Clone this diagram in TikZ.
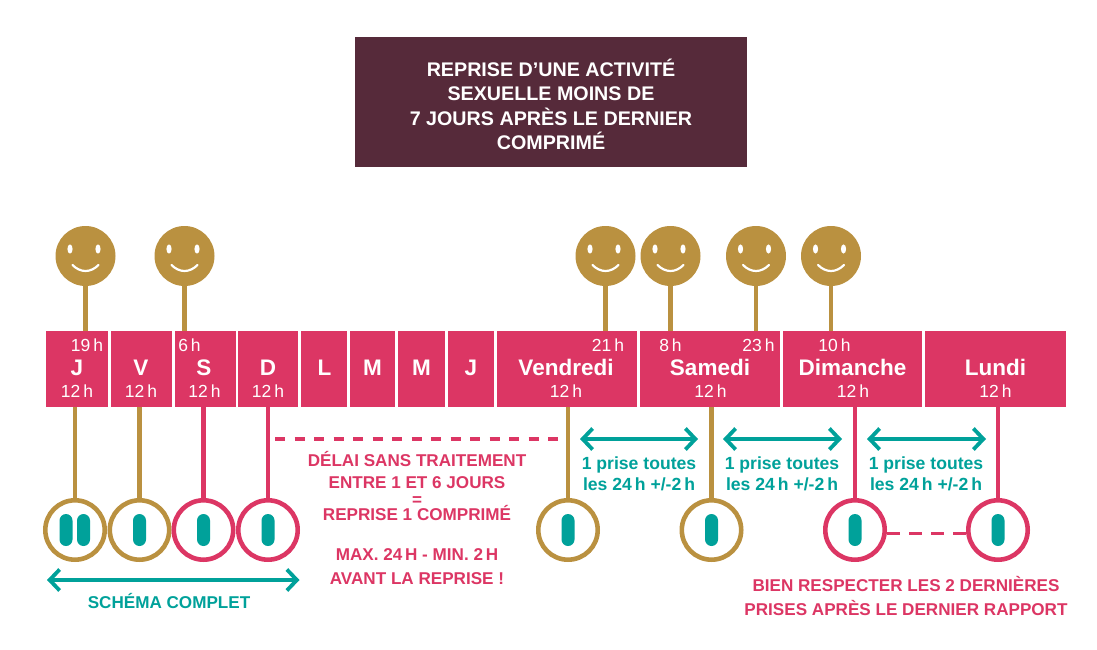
\documentclass[tikz,border=0pt]{standalone}
\usepackage{fontspec}
\setmainfont{Liberation Sans}
\usetikzlibrary{arrows.meta}
\definecolor{rose}{HTML}{DC3664}
\definecolor{gold}{HTML}{BA9140}
\definecolor{teal2}{HTML}{00A19A}
\definecolor{plum}{HTML}{562A3A}
\tikzset{
 x=1pt,y=-1pt,
 daybox/.style={fill=rose,inner sep=0,outer sep=0,anchor=north west,minimum height=76pt},
 dt/.style={text=white,font=\bfseries\fontsize{22.5}{22.5}\selectfont,inner sep=0,anchor=base},
 hr/.style={text=white,font=\fontsize{17.5}{17.5}\selectfont,inner sep=0,anchor=base},
 pilring/.style={circle,draw=#1,line width=4.6pt,fill=white,minimum size=59.4pt,inner sep=0,outer sep=0},
 pill/.style={fill=teal2,rounded corners=6.5pt,inner sep=0,minimum width=13pt,minimum height=32pt},
 face/.style={circle,fill=gold,minimum size=60pt,inner sep=0,outer sep=0},
 stem/.style={line width=4.6pt,#1},
 span/.style={teal2,line width=3.8pt,{Straight Barb[length=10pt,width=21pt]}-{Straight Barb[length=10pt,width=21pt]}},
 dashline/.style={rose,line width=3.6pt,dash pattern=on 10pt off 9.5pt},
 dashshort/.style={rose,line width=3.6pt,dash pattern=on 13pt off 9pt},
 rosetxt/.style={text=rose,font=\bfseries\fontsize{17.1}{21}\selectfont,inner sep=0,anchor=base},
 tealtxt/.style={text=teal2,font=\bfseries\fontsize{17.6}{21}\selectfont,inner sep=0,anchor=base},
 titletxt/.style={text=white,font=\bfseries\fontsize{19.7}{24}\selectfont,inner sep=0,anchor=base},
}
\newcommand{\dayb}[3]{\node[daybox,minimum width=#3pt-#2pt] (#1) at (#2,331) {};}
\newcommand{\smiley}[2]{%
 \node[face] (#1) at (#2,256) {};
 \fill[white] (#1.center)++(-15.5,-7) ellipse (2.6 and 4.6);
 \fill[white] (#1.center)++(12.5,-7) ellipse (2.6 and 4.6);
 \draw[white,line width=2.2pt,line cap=round] (#1.center)++(-13,9) .. controls +(8,8) and +(-8,8) .. +(26,0);
}
\begin{document}
\begin{tikzpicture}
\useasboundingbox (0,0) rectangle (1097,650);
\node[fill=plum,minimum width=392pt,minimum height=130pt,inner sep=0] (title) at (551,102) {};
\node[titletxt] (ti1) at (551,76.7) {REPRISE D’UNE ACTIVITÉ};
\node[titletxt] (ti2) at (551,100.5) {SEXUELLE MOINS DE};
\node[titletxt] (ti3) at (551,125) {7 JOURS APRÈS LE DERNIER};
\node[titletxt] (ti4) at (551,149.3) {COMPRIMÉ};
% day boxes
\dayb{dJ}{46}{108}\dayb{dV}{111}{172}\dayb{dS}{174.5}{235.5}\dayb{dD}{238}{298}
\dayb{dL}{301}{347}\dayb{dMa}{350}{395}\dayb{dMe}{398}{445}\dayb{dJe}{448}{494}
\dayb{dVen}{497}{637}\dayb{dSam}{640}{780}\dayb{dDim}{783}{922}\dayb{dLun}{925}{1066}
% day labels
\node[dt] (l1) at (77,375.5) {J};
\node[dt] (l2) at (141,375.5) {V};
\node[dt] (l3) at (204,375.5) {S};
\node[dt] (l4) at (268,375.5) {D};
\node[dt] (l5) at (324.5,375.5) {L};
\node[dt] (l6) at (372.5,375.5) {M};
\node[dt] (l7) at (421.5,375.5) {M};
\node[dt] (l8) at (471,375.5) {J};
\node[dt] (l9) at (566,375.5) {Vendredi};
\node[dt] (l10) at (710,375.5) {Samedi};
\node[dt] (l11) at (852.5,375.5) {Dimanche};
\node[dt] (l12) at (995.5,375.5) {Lundi};
\foreach \x in {77,141,204.5,268,566,710.5,853,995.5}
  \node[hr] at (\x,397) {12\,h};
\node[hr] (h1) at (87,351) {19\,h};
\node[hr] (h2) at (189.5,351) {6\,h};
\node[hr] (h3) at (608,351) {21\,h};
\node[hr] (h4) at (670.5,351) {8\,h};
\node[hr] (h5) at (758.5,351) {23\,h};
\node[hr] (h6) at (834.5,351) {10\,h};
% smileys
\smiley{f1}{85.5}\smiley{f2}{184.5}\smiley{f3}{605.5}\smiley{f4}{670.5}\smiley{f5}{756}\smiley{f6}{831}
\coordinate (t1) at (f1|-dJ.north);
\coordinate (t2) at (f2|-dS.north);
\coordinate (t3) at (f3|-dVen.north);
\coordinate (t4) at (f4|-dSam.north);
\coordinate (t5) at (f5|-dSam.north);
\coordinate (t6) at (f6|-dDim.north);
\foreach \a/\b in {f1/t1,f2/t2,f3/t3,f4/t4,f5/t5,f6/t6} \draw[stem=gold] (\a.south) -- (\b);
% rings
\foreach \n/\x/\c in {r1/75/gold,r2/139.5/gold,r3/203.5/rose,r4/268/rose,r5/568/gold,r6/711.5/gold,r7/855/rose,r8/998/rose}{
  \node[pilring=\c] (\n) at (\x,530) {};
  \coordinate (b\n) at (\x,407);
  \draw[stem=\c] (b\n) -- (\n.north);
}
\node[pill] (p1a) at (66,530) {};
\node[pill] (p1b) at (83.5,530) {};
\foreach \n/\x in {p2/139.5,p3/203.5,p4/268,p5/568,p6/711.5,p7/855,p8/998}
  \node[pill] (\n) at (\x,530) {};
% arrows
\coordinate (a1) at (47,580); \coordinate (a2) at (299.5,580);
\draw[span] (a1) -- (a2);
\coordinate (a3) at (580,439); \coordinate (a4) at (698,439);
\draw[span] (a3) -- (a4);
\coordinate (a5) at (723,439); \coordinate (a6) at (842,439);
\draw[span] (a5) -- (a6);
\coordinate (a7) at (867,439); \coordinate (a8) at (986,439);
\draw[span] (a7) -- (a8);
% dashes
\coordinate (d1) at (275,439); \coordinate (d2) at (561,439);
\draw[dashline] (d1) -- (d2);
\coordinate (d3) at (887,533.3); \coordinate (d4) at (967,533.3);
\draw[dashshort] (d3) -- (d4);
% texts
\node[rosetxt] (x1) at (417,466) {DÉLAI SANS TRAITEMENT};
\node[rosetxt] (x2) at (417,488.7) {ENTRE 1 ET 6 JOURS};
\node[rosetxt] (x3) at (417,505) {=};
\node[rosetxt] (x4) at (417,520) {REPRISE 1 COMPRIMÉ};
\node[rosetxt] (x5) at (417,560.7) {MAX. 24\,H - MIN. 2\,H};
\node[rosetxt] (x6) at (417,584) {AVANT LA REPRISE !};
\foreach \n/\x in {u/639,v/782,w/926}{
  \node[tealtxt] (\n1) at (\x,469.3) {1 prise toutes};
  \node[tealtxt] (\n2) at (\x,490.7) {les 24\,h +/-2\,h};
}
\node[tealtxt,font=\bfseries\fontsize{17.1}{21}\selectfont] (sc) at (169,608.3) {SCHÉMA COMPLET};
\node[rosetxt] (y1) at (906,591.7) {BIEN RESPECTER LES 2 DERNIÈRES};
\node[rosetxt] (y2) at (906,615) {PRISES APRÈS LE DERNIER RAPPORT};
\end{tikzpicture}
\end{document}
